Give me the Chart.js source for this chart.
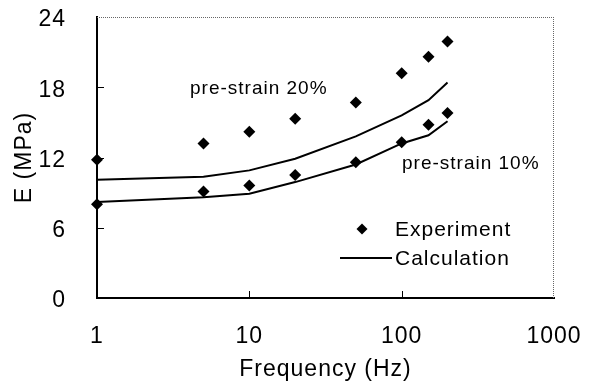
<!DOCTYPE html>
<html>
<head>
<meta charset="utf-8">
<script src="https://cdn.jsdelivr.net/npm/chart.js@4.4.1/dist/chart.umd.min.js"></script>
<style>
  html, body { margin: 0; padding: 0; background: #fff; }
  #wrap { width: 595px; height: 383px; }
</style>
</head>
<body>
<div id="wrap"><canvas id="chart"></canvas></div>
<script>
// frequency (Hz) and modulus E (MPa)
const freq = [1, 5, 10, 20, 50, 100, 150, 200];
const exp20 = [11.8, 13.2, 14.2, 15.3, 16.7, 19.2, 20.6, 21.9];
const exp10 = [8.0, 9.1, 9.6, 10.5, 11.6, 13.3, 14.8, 15.8];
const calc20 = [10.1, 10.35, 10.9, 11.9, 13.8, 15.6, 16.9, 18.4];
const calc10 = [8.2, 8.6, 8.9, 9.9, 11.4, 13.2, 13.9, 15.1];
const xTicks = [1, 10, 100, 1000];
const yTicks = [0, 6, 12, 18, 24];

const FONT = "'Liberation Sans', Arial, sans-serif";
const pts = (xs, ys) => xs.map((x, i) => ({ x: x, y: ys[i] }));

// the scanned figure has loosely spaced lettering
const spacing = {
    id: 'spacing',
    beforeUpdate(chart) { chart.ctx.letterSpacing = '1px'; },
    beforeDraw(chart) { chart.ctx.letterSpacing = '1px'; }
};

const frame = {
    id: 'frame',
    afterDraw(chart) {
        const ctx = chart.ctx;
        const a = chart.chartArea;
        const xs = chart.scales.x, ys = chart.scales.y;
        ctx.save();
        // dotted top and right border
        ctx.strokeStyle = '#666';
        ctx.lineWidth = 1;
        ctx.setLineDash([1, 1]);
        ctx.beginPath();
        ctx.moveTo(a.left, a.top + 0.5);
        ctx.lineTo(a.right, a.top + 0.5);
        ctx.moveTo(a.right - 0.5, a.top);
        ctx.lineTo(a.right - 0.5, a.bottom);
        ctx.stroke();
        ctx.setLineDash([]);
        // inner ticks
        ctx.strokeStyle = '#000';
        ctx.lineWidth = 1;
        ctx.beginPath();
        yTicks.slice(1, -1).forEach(v => {
            const y = Math.round(ys.getPixelForValue(v)) + 0.5;
            ctx.moveTo(a.left, y);
            ctx.lineTo(a.left + 7, y);
        });
        xTicks.slice(1, -1).forEach(v => {
            const x = Math.round(xs.getPixelForValue(v)) + 0.5;
            ctx.moveTo(x, a.bottom);
            ctx.lineTo(x, a.bottom - 7);
        });
        ctx.stroke();

        // annotations
        ctx.fillStyle = '#000';
        ctx.font = '19px ' + FONT;
        ctx.textBaseline = 'middle';
        ctx.textAlign = 'left';
        ctx.fillText('pre-strain 20%', 190, 89);
        ctx.fillText('pre-strain 10%', 402, 164);

        // legend
        ctx.beginPath();
        ctx.moveTo(362, 223.5);
        ctx.lineTo(367.5, 229);
        ctx.lineTo(362, 234.5);
        ctx.lineTo(356.5, 229);
        ctx.closePath();
        ctx.fill();
        ctx.lineWidth = 2;
        ctx.beginPath();
        ctx.moveTo(340, 258);
        ctx.lineTo(392, 258);
        ctx.stroke();
        ctx.font = '21px ' + FONT;
        ctx.fillText('Experiment', 395, 230);
        ctx.fillText('Calculation', 395, 259);
        ctx.restore();
    }
};

const expStyle = {
    showLine: false,
    pointStyle: 'rectRot',
    pointRadius: 6,
    pointBorderWidth: 0,
    backgroundColor: '#000',
    borderColor: '#000',
    clip: false
};
const calcStyle = {
    showLine: true,
    pointRadius: 0,
    borderColor: '#000',
    borderWidth: 2,
    tension: 0,
    clip: false
};

new Chart(document.getElementById('chart'), {
    type: 'scatter',
    data: {
        datasets: [
            Object.assign({ label: 'Experiment 20%', data: pts(freq, exp20) }, expStyle),
            Object.assign({ label: 'Experiment 10%', data: pts(freq, exp10) }, expStyle),
            Object.assign({ label: 'Calculation 20%', data: pts(freq, calc20) }, calcStyle),
            Object.assign({ label: 'Calculation 10%', data: pts(freq, calc10) }, calcStyle)
        ]
    },
    options: {
        responsive: true,
        maintainAspectRatio: false,
        animation: false,
        layout: { padding: { left: 0, top: 17, right: 41, bottom: 0 } },
        plugins: { legend: { display: false }, tooltip: { enabled: false } },
        scales: {
            x: {
                type: 'logarithmic',
                min: 1,
                max: 1000,
                afterBuildTicks: s => { s.ticks = xTicks.map(v => ({ value: v })); },
                afterFit: s => { s.height = 85; s.paddingLeft = 0; s.paddingRight = 0; },
                grid: { display: false, drawTicks: false },
                border: { display: true, color: '#000', width: 2 },
                ticks: {
                    color: '#000',
                    font: { family: FONT, size: 23 },
                    padding: 25,
                    maxRotation: 0,
                    callback: v => String(v)
                },
                title: {
                    display: true,
                    text: 'Frequency (Hz)',
                    color: '#000',
                    font: { family: FONT, size: 23 },
                    padding: { top: 0, bottom: 0 }
                }
            },
            y: {
                min: 0,
                max: 24,
                afterBuildTicks: s => { s.ticks = yTicks.map(v => ({ value: v })); },
                afterFit: s => { s.width = 97; s.paddingTop = 0; s.paddingBottom = 0; },
                grid: { display: false, drawTicks: false },
                border: { display: true, color: '#000', width: 2 },
                ticks: {
                    color: '#000',
                    font: { family: FONT, size: 23 },
                    padding: 31,
                    labelOffset: 3
                },
                title: {
                    display: true,
                    text: 'E (MPa)',
                    color: '#000',
                    font: { family: FONT, size: 23 },
                    padding: { top: 11, bottom: 0 }
                }
            }
        }
    },
    plugins: [spacing, frame]
});
</script>
</body>
</html>
